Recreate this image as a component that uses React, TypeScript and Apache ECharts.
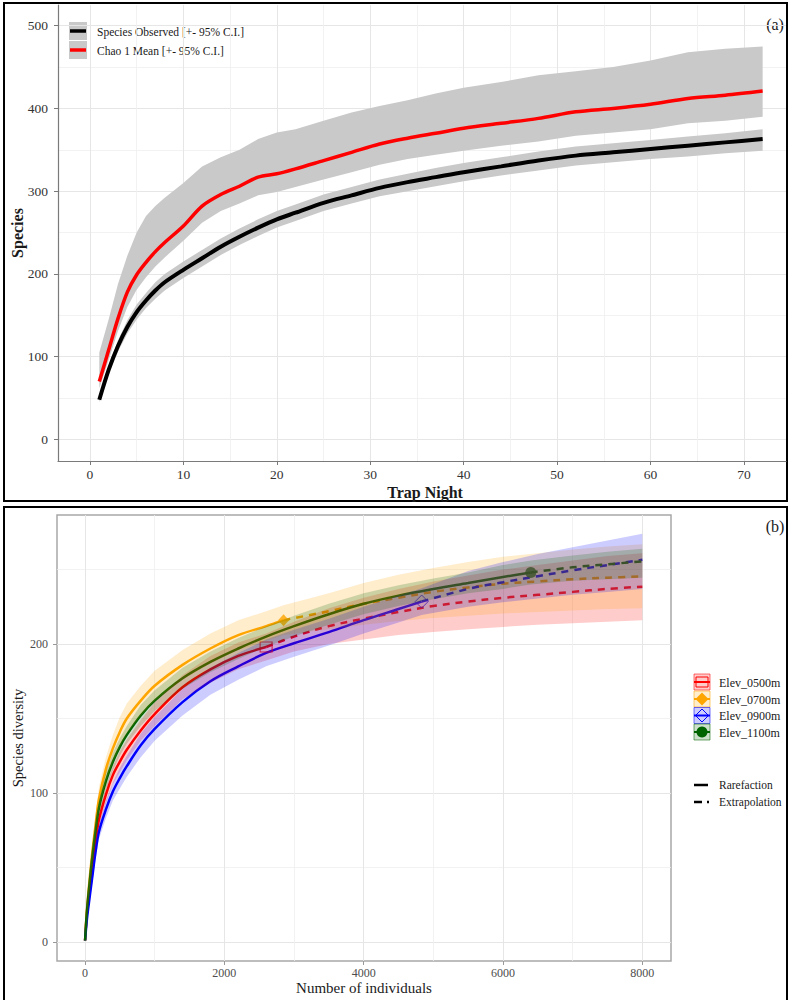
import React, { useEffect, useRef } from "react";
import * as echarts from "echarts";

const SERIF = "'Liberation Serif', 'DejaVu Serif', serif";

// ---------- Panel (a): species accumulation ----------
const trapNights = [1, 2, 3, 4, 5, 6, 7, 8, 10, 12, 14, 16, 18, 20, 22, 25, 28, 31, 34, 37, 40, 44, 48, 52, 56, 60, 64, 68, 72];
const speciesObserved = [48, 84, 113, 136, 154, 168, 180, 190, 205, 219, 233, 245, 256, 266, 274, 286, 295, 304, 311, 317, 323, 330, 337, 343, 347, 351, 355, 359, 363];
const speciesObservedLower = [45, 79, 106, 128, 145, 159, 170, 180, 195, 209, 223, 235, 246, 256, 264, 276, 285, 294, 300, 306, 312, 319, 325, 331, 335, 339, 342, 346, 349];
const speciesObservedUpper = [51, 89, 120, 144, 163, 177, 190, 200, 215, 229, 243, 255, 266, 276, 284, 296, 305, 314, 321, 328, 334, 341, 348, 354, 358, 362, 366, 370, 375];
const chao1Mean = [70, 108, 146, 178, 199, 214, 227, 238, 258, 282, 296, 306, 317, 321, 327, 337, 347, 357, 364, 370, 376, 382, 388, 396, 400, 405, 412, 416, 421];
const chao1Lower = [62, 96, 131, 160, 181, 196, 209, 220, 240, 262, 276, 285, 295, 299, 305, 314, 323, 332, 339, 344, 349, 355, 360, 367, 371, 375, 382, 385, 390];
const chao1Upper = [105, 145, 188, 222, 250, 270, 282, 292, 310, 330, 341, 350, 363, 371, 375, 385, 395, 403, 410, 418, 425, 432, 440, 445, 450, 458, 468, 472, 475];
const trapNightTicks = [0, 10, 20, 30, 40, 50, 60, 70];
const trapNightMinorTicks = [5, 15, 25, 35, 45, 55, 65];
const speciesTicks = [0, 100, 200, 300, 400, 500];
const speciesMinorTicks = [50, 150, 250, 350, 450];

// ---------- Panel (b): rarefaction / extrapolation ----------
const rare0500N = [1, 25, 50, 100, 150, 200, 300, 400, 500, 600, 800, 1000, 1400, 1800, 2200, 2600];
const rare0500S = [1, 18, 30, 50, 67, 82, 99, 112, 121, 129, 142, 153, 171, 183, 192, 198];
const ext0500N = [2600, 3000, 3500, 4000, 4500, 5000, 5500, 6000, 6500, 7000, 7500, 8000];
const ext0500S = [198, 205, 212, 217, 221.5, 225.5, 228.5, 231, 233, 235, 237, 238.5];
const band0500Lower = [1, 16, 27, 46, 62, 77, 93, 106, 114, 122, 135, 145, 163, 174, 183, 189, 195, 200, 203, 206, 208, 210, 211.5, 213, 214, 215, 216];
const band0500Upper = [1, 20, 33, 54, 72, 87, 105, 118, 128, 136, 149, 161, 179, 192, 201, 207, 215, 224, 231, 237, 242, 246, 250, 253, 256, 259, 261];

const rare0700N = [1, 25, 50, 100, 150, 200, 300, 400, 500, 600, 800, 1000, 1400, 1800, 2200, 2600, 2850];
const rare0700S = [1, 20, 34, 58, 78, 96, 116, 130, 141, 150, 162, 172, 186, 197, 206, 212, 216];
const ext0700N = [2850, 3500, 4000, 4500, 5000, 5500, 6000, 6500, 7000, 7500, 8000];
const ext0700S = [216, 222, 227, 231, 235, 238, 240.5, 242, 243.5, 244.5, 245.5];
const band0700Lower = [1, 18, 30, 52, 72, 88, 108, 121, 131, 140, 152, 162, 176, 187, 196, 202, 206, 210, 213, 215.5, 217.5, 219, 220.5, 221.5, 222.5, 223.5, 224];
const band0700Upper = [1, 22, 38, 64, 84, 104, 124, 139, 151, 160, 172, 182, 196, 207, 216, 222, 226, 234, 241, 246.5, 251, 255, 258.5, 261, 263.5, 265.5, 267];

const rare0900N = [1, 25, 50, 100, 150, 200, 300, 400, 500, 600, 800, 1000, 1400, 1800, 2200, 2600, 3000, 3500, 4000, 4500, 4833];
const rare0900S = [1, 14, 24, 42, 60, 74, 89, 101, 110, 118, 132, 143, 161, 175, 185, 194, 200.5, 208, 216, 223.5, 228.5];
const ext0900N = [4833, 5500, 6000, 6500, 7000, 7500, 8000];
const ext0900S = [228.5, 237, 241.5, 245.5, 249.5, 253, 256.5];
const band0900Lower = [1, 12, 21, 38, 55, 69, 83, 95, 103, 111, 124, 135, 152, 166, 176, 185, 191.5, 199, 207, 214.5, 219.5, 225, 228, 230.5, 233, 235, 237];
const band0900Upper = [1, 16, 27, 46, 65, 79, 95, 107, 117, 125, 140, 151, 170, 184, 194, 203, 209.5, 217, 225, 232.5, 237.5, 249, 255, 260.5, 265, 269.5, 274];

const rare1100N = [1, 25, 50, 100, 150, 200, 300, 400, 500, 600, 800, 1000, 1400, 1800, 2200, 2600, 3000, 3500, 4000, 4500, 5000, 5500, 6000, 6400];
const rare1100S = [1, 19, 32, 55, 74, 90, 108, 121, 131, 139, 152, 162, 177, 188, 197, 205, 212, 220, 227, 232.5, 237, 241, 245, 248];
const ext1100N = [6400, 7000, 7500, 8000];
const ext1100S = [248, 251.5, 253.5, 255.5];
const band1100Lower = [1, 17, 29, 51, 69, 85, 102, 115, 125, 133, 145, 155, 170, 181, 190, 198, 205, 213, 220, 225.5, 230, 234, 237, 240, 242.5, 243.5, 244.5];
const band1100Upper = [1, 21, 35, 59, 79, 95, 114, 127, 137, 145, 159, 169, 184, 195, 204, 212, 219, 227, 234, 239.5, 244, 248, 253, 256, 259.5, 262, 264];

const individualsTicks = [0, 2000, 4000, 6000, 8000];
const individualsMinorTicks = [1000, 3000, 5000, 7000];
const diversityTicks = [0, 100, 200];
const diversityMinorTicks = [50, 150, 250];

const elevGroups = [
  { name: "Elev_0500m", color: "#FF0000", rgb: "255,0,0", rareN: rare0500N, rareS: rare0500S, extN: ext0500N, extS: ext0500S, lower: band0500Lower, upper: band0500Upper, symbol: "rect", symbolSize: [12, 10], hollow: true },
  { name: "Elev_0700m", color: "#FFA500", rgb: "255,165,0", rareN: rare0700N, rareS: rare0700S, extN: ext0700N, extS: ext0700S, lower: band0700Lower, upper: band0700Upper, symbol: "diamond", symbolSize: [11, 12], hollow: false },
  { name: "Elev_0900m", color: "#0000FF", rgb: "0,0,255", rareN: rare0900N, rareS: rare0900S, extN: ext0900N, extS: ext0900S, lower: band0900Lower, upper: band0900Upper, symbol: "diamond", symbolSize: [13, 13], hollow: true },
  { name: "Elev_1100m", color: "#006400", rgb: "0,100,0", rareN: rare1100N, rareS: rare1100S, extN: ext1100N, extS: ext1100S, lower: band1100Lower, upper: band1100Upper, symbol: "circle", symbolSize: 11, hollow: false },
];

const pairs = (xs: number[], ys: number[]) => xs.map((x, i) => [x, ys[i]]);

// Confidence band drawn as one polygon through the axis scales (api.coord)
function bandSeries(id: string, xs: number[], lo: number[], hi: number[], fill: string, xi: number, yi: number, z: number) {
  return {
    type: "custom",
    name: id,
    xAxisIndex: xi,
    yAxisIndex: yi,
    silent: true,
    clip: true,
    z,
    data: xs.map((x, i) => [x, lo[i], hi[i]]),
    encode: { x: 0, y: [1, 2] },
    renderItem: (params: any, api: any) => {
      if (params.dataIndex !== 0) return null;
      const pts: number[][] = [];
      for (let i = 0; i < xs.length; i++) pts.push(api.coord([xs[i], hi[i]]));
      for (let i = xs.length - 1; i >= 0; i--) pts.push(api.coord([xs[i], lo[i]]));
      return { type: "polygon", shape: { points: pts }, style: { fill, stroke: "none" } };
    },
  };
}

function axisPair(grid: number, min: number, max: number, major: number[], minor: number[], kind: "x" | "y", panel: "a" | "b") {
  const labelColor = panel === "a" ? "#333333" : "#4d4d4d";
  const fontSize = panel === "a" ? 13.5 : 12;
  const base = {
    gridIndex: grid, type: "value", min, max,
    axisLine: { show: panel === "a", onZero: false, lineStyle: { color: "#7a7a7a", width: 1.2 } },
    axisTick: { show: true, length: 4, customValues: major, lineStyle: { color: panel === "a" ? "#7a7a7a" : "#999999" } },
    axisLabel: {
      show: true, customValues: major, fontFamily: SERIF, fontSize, color: labelColor,
      margin: kind === "y" ? (panel === "a" ? 10 : 9) : 6,
      formatter: (v: number) => String(v),
    },
    splitLine: { show: true, lineStyle: { color: "#e6e6e6", width: 1 } },
  };
  const minorAxis = {
    gridIndex: grid, type: "value", min, max, show: true,
    axisLine: { show: false, onZero: false },
    axisTick: { show: false, customValues: minor },
    axisLabel: { show: false, customValues: minor },
    splitLine: { show: true, lineStyle: { color: "#efefef", width: 0.8 } },
  };
  return [base, minorAxis];
}

function buildOption() {
  const series: any[] = [];
  // Panel (a)
  series.push(bandSeries("obsBand", trapNights, speciesObservedLower, speciesObservedUpper, "#c9c9c9", 0, 0, 1));
  series.push(bandSeries("chaoBand", trapNights, chao1Lower, chao1Upper, "#c9c9c9", 0, 0, 1));
  series.push({
    type: "line", name: "Species Observed", xAxisIndex: 0, yAxisIndex: 0, data: pairs(trapNights, speciesObserved),
    symbol: "none", smooth: 0.3, z: 2, lineStyle: { color: "#000000", width: 4 },
  });
  series.push({
    type: "line", name: "Chao 1 Mean", xAxisIndex: 0, yAxisIndex: 0, data: pairs(trapNights, chao1Mean),
    symbol: "none", smooth: 0.3, z: 2, lineStyle: { color: "#FF0000", width: 3.5 },
  });

  // Panel (b): lines
  elevGroups.forEach((g) => {
    series.push({
      type: "line", name: g.name + " rarefaction", xAxisIndex: 2, yAxisIndex: 2, data: pairs(g.rareN, g.rareS),
      symbol: "none", smooth: 0.35, z: 2, lineStyle: { color: g.color, width: 2.5 },
    });
    series.push({
      type: "line", name: g.name + " extrapolation", xAxisIndex: 2, yAxisIndex: 2, data: pairs(g.extN, g.extS),
      symbol: "none", smooth: 0.35, z: 2, lineStyle: { color: g.color, width: 2.5, type: [7, 6] },
    });
  });
  elevGroups.forEach((g) => {
    const last = g.rareN.length - 1;
    series.push({
      type: "scatter", name: g.name + " observed", xAxisIndex: 2, yAxisIndex: 2, z: 2,
      data: [[g.rareN[last], g.rareS[last]]], symbol: g.symbol, symbolSize: g.symbolSize,
      itemStyle: g.hollow
        ? { color: "rgba(0,0,0,0)", borderColor: g.color, borderWidth: 1 }
        : { color: g.color },
    });
  });
  elevGroups.forEach((g) => {
    const bandN = g.rareN.concat(g.extN.slice(1));
    series.push(bandSeries(g.name + " band", bandN, g.lower, g.upper, `rgba(${g.rgb},0.2)`, 2, 2, 4));
  });

  const xa = axisPair(0, -3.42, 74.5, trapNightTicks, trapNightMinorTicks, "x", "a");
  const ya = axisPair(0, -26, 525, speciesTicks, speciesMinorTicks, "y", "a");
  const xb = axisPair(1, -402, 8412, individualsTicks, individualsMinorTicks, "x", "b");
  const yb = axisPair(1, -12.75, 286.6, diversityTicks, diversityMinorTicks, "y", "b");

  const graphic: any[] = [];
  const txt = (text: string, x: number, y: number, size: number, opts: any = {}) => ({
    type: "text", x, y, rotation: opts.rotation || 0, silent: true,
    style: {
      text, fontSize: size, fontFamily: SERIF, fontWeight: opts.weight || "normal",
      fill: opts.fill || "#1a1a1a", align: opts.align || "left", verticalAlign: "middle",
    },
  });
  // panel frames
  graphic.push({ type: "rect", shape: { x: 4, y: 3, width: 783, height: 498 }, style: { fill: "none", stroke: "#000", lineWidth: 2 }, silent: true });
  graphic.push({ type: "rect", shape: { x: 4, y: 507, width: 783, height: 498 }, style: { fill: "none", stroke: "#000", lineWidth: 2 }, silent: true });
  // panel labels
  graphic.push(txt("(a)", 775, 24, 16, { align: "center" }));
  graphic.push(txt("(b)", 775, 526, 16, { align: "center" }));
  // axis titles
  graphic.push(txt("Species", 17, 233, 16, { align: "center", weight: "bold", rotation: Math.PI / 2 }));
  graphic.push(txt("Trap Night", 425, 492, 16, { align: "center", weight: "bold" }));
  graphic.push(txt("Species diversity", 18, 738, 14.5, { align: "center", rotation: Math.PI / 2 }));
  graphic.push(txt("Number of individuals", 364, 988, 15, { align: "center" }));

  // legend (a)
  const legA = [
    { label: "Species Observed [+- 95% C.I.]", color: "#000000", y: 31 },
    { label: "Chao 1 Mean [+- 95% C.I.]", color: "#FF0000", y: 50 },
  ];
  legA.forEach((l) => {
    graphic.push({ type: "rect", shape: { x: 69, y: l.y - 9, width: 18, height: 18 }, style: { fill: "#c9c9c9" }, silent: true });
    graphic.push({ type: "line", shape: { x1: 70, y1: l.y, x2: 86, y2: l.y }, style: { stroke: l.color, lineWidth: 3.5 }, silent: true });
    graphic.push(txt(l.label, 97, l.y + 1, 11.5));
  });

  // legend (b)
  const legYs = [682, 699, 715.5, 732];
  elevGroups.forEach((g, i) => {
    const yc = legYs[i];
    graphic.push({ type: "rect", shape: { x: 694, y: yc - 8, width: 16, height: 16 }, style: { fill: `rgba(${g.rgb},0.2)`, stroke: `rgba(${g.rgb},0.55)`, lineWidth: 1 }, silent: true });
    graphic.push({ type: "line", shape: { x1: 694, y1: yc, x2: 710, y2: yc }, style: { stroke: g.color, lineWidth: 2 }, silent: true });
    const cx = 702;
    if (g.symbol === "rect") {
      graphic.push({ type: "rect", shape: { x: cx - 6, y: yc - 5, width: 12, height: 10 }, style: { fill: "none", stroke: g.color, lineWidth: 1 }, silent: true });
    } else if (g.symbol === "diamond") {
      graphic.push({
        type: "polygon", shape: { points: [[cx, yc - 6.5], [cx + 6.5, yc], [cx, yc + 6.5], [cx - 6.5, yc]] },
        style: g.hollow ? { fill: "none", stroke: g.color, lineWidth: 1 } : { fill: g.color }, silent: true,
      });
    } else {
      graphic.push({ type: "circle", shape: { cx, cy: yc, r: 5.5 }, style: { fill: g.color }, silent: true });
    }
    graphic.push(txt(g.name, 719, yc + 0.5, 12));
  });
  graphic.push({ type: "line", shape: { x1: 694, y1: 785, x2: 708, y2: 785 }, style: { stroke: "#000", lineWidth: 2.5 }, silent: true });
  graphic.push({ type: "line", shape: { x1: 694, y1: 802, x2: 709, y2: 802 }, style: { stroke: "#000", lineWidth: 2.5, lineDash: [8, 5] }, silent: true });
  graphic.push(txt("Rarefaction", 719, 785, 11.5));
  graphic.push(txt("Extrapolation", 719, 802, 11.5));

  return {
    animation: false,
    backgroundColor: "#ffffff",
    textStyle: { fontFamily: SERIF },
    grid: [
      { left: 58, top: 5, width: 728, height: 456, show: false, containLabel: false },
      { left: 57, top: 515, width: 614, height: 446, show: true, borderColor: "#a8a8a8", borderWidth: 1.5, backgroundColor: "rgba(0,0,0,0)", containLabel: false },
    ],
    xAxis: [...xa, ...xb],
    yAxis: [...ya, ...yb],
    series,
    graphic,
  };
}

export default function App() {
  const ref = useRef<HTMLDivElement>(null);
  useEffect(() => {
    if (!ref.current) return;
    const chart = echarts.init(ref.current, undefined, { renderer: "svg" });
    chart.setOption(buildOption() as any);
    return () => chart.dispose();
  }, []);
  return (
    <div
      ref={ref}
      style={{ position: "absolute", left: 0, top: 0, width: 788, height: 1000, background: "#fff" }}
    />
  );
}
